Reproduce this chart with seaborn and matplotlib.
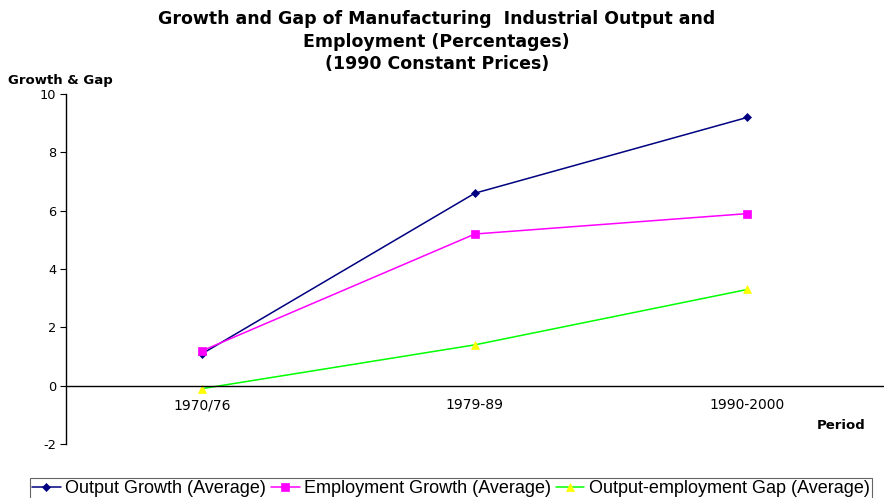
import matplotlib
matplotlib.use("Agg")
import matplotlib.pyplot as plt
import seaborn as sns
import pandas as pd
from matplotlib.ticker import FixedLocator

periods = ["1970/76", "1979-89", "1990-2000"]
output_growth = [1.1, 6.6, 9.2]
employment_growth = [1.2, 5.2, 5.9]
gap = [-0.1, 1.4, 3.3]
series_names = ["Output Growth (Average)", "Employment Growth (Average)",
                "Output-employment Gap (Average)"]

sns.set_theme(style="white")
plt.rcParams['font.family'] = ['DejaVu Sans']
plt.rcParams['text.color'] = 'black'
plt.rcParams['xtick.color'] = 'black'
plt.rcParams['ytick.color'] = 'black'

rows = []
for name, vals in zip(series_names, [output_growth, employment_growth, gap]):
    for p, v in zip(periods, vals):
        rows.append({"Period": p, "Value": v, "Series": name})
df = pd.DataFrame(rows)

fig = plt.figure(figsize=(8.84, 4.98), dpi=100)
ax = fig.add_axes([0.0747, 0.1084, 0.925, 0.7028])

line_colors = ["#000080", "#FF00FF", "#00FF00"]
marker_colors = ["#000080", "#FF00FF", "#FFFF00"]
markers = ["D", "s", "^"]

sns.lineplot(data=df, x="Period", y="Value", hue="Series", style="Series",
             hue_order=series_names, style_order=series_names,
             palette=line_colors, markers=markers, dashes=False,
             linewidth=1.1, markersize=5.5, legend=False, ax=ax, sort=False)

handles = []
for i, ln in enumerate(ax.lines[:3]):
    ln.set_markerfacecolor(marker_colors[i])
    ln.set_markeredgecolor(marker_colors[i])
    ln.set_markeredgewidth(0.5)
    if i == 0:
        ln.set_markersize(4)
    handles.append(ln)

ax.set_xlim(-0.5, 2.5)
ax.set_ylim(-2, 10)
ax.set_yticks([-2, 0, 2, 4, 6, 8, 10])
ax.set_yticklabels(["-2", "0", "2", "4", "6", "8", "10"], fontsize=9.3)

ax.spines['top'].set_visible(False)
ax.spines['right'].set_visible(False)
ax.spines['bottom'].set_position(('data', 0))
ax.spines['bottom'].set_color('black')
ax.spines['left'].set_color('black')
ax.spines['bottom'].set_linewidth(1.0)
ax.spines['left'].set_linewidth(1.0)

ax.set_xticks([0, 1, 2])
ax.set_xticklabels(periods, fontsize=10)
ax.tick_params(axis='x', which='major', length=0, pad=9)
ax.xaxis.set_minor_locator(FixedLocator([0.5, 1.5, 2.5]))
ax.tick_params(axis='x', which='minor', direction='in', length=4, width=0.8, color='black')
ax.tick_params(axis='y', which='major', direction='out', length=4, width=0.8,
               color='black', left=True, pad=3)
ax.set_xlabel("")
ax.set_ylabel("")
ax.grid(False)

fig.text(0.494, 0.979, "Growth and Gap of Manufacturing  Industrial Output and\n"
         "Employment (Percentages)\n(1990 Constant Prices)",
         ha='center', va='top', fontsize=12.5, fontweight='bold', linespacing=1.3)
fig.text(0.009, 0.838, "Growth & Gap", ha='left', va='center', fontsize=9.5,
         fontweight='bold')
fig.text(0.979, 0.146, "Period", ha='right', va='center', fontsize=9.5,
         fontweight='bold')

leg = fig.legend(handles=handles, labels=series_names, loc='upper left',
                 bbox_to_anchor=(0.034, 0.040), ncol=3,
                 prop={'family': 'Liberation Sans', 'size': 13},
                 frameon=True, fancybox=False, edgecolor='#404040',
                 handlelength=1.6, handletextpad=0.25, columnspacing=0.25,
                 borderpad=0.1, borderaxespad=0)
leg.get_frame().set_linewidth(0.8)

fig.savefig("out.png", dpi=100)
